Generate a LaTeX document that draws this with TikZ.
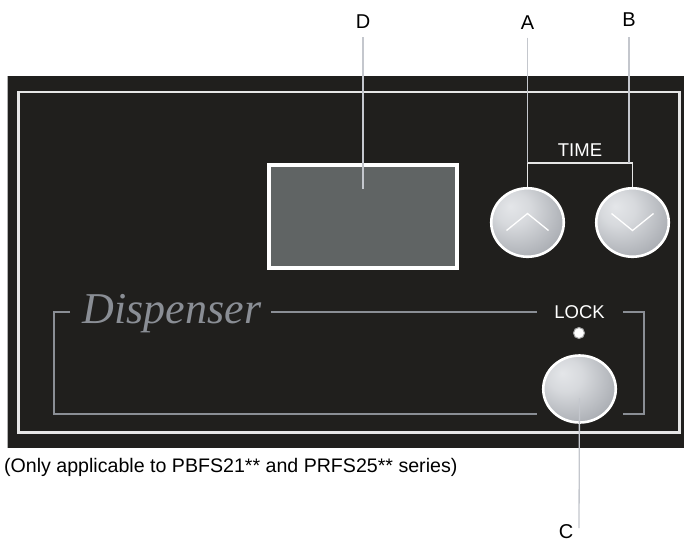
\documentclass[tikz,border=0pt]{standalone}
\usepackage{fontspec}
\setmainfont{Liberation Sans}
\newfontfamily\dispfont{Liberation Serif}
\usetikzlibrary{shapes.geometric}
\definecolor{panel}{HTML}{201F1D}
\definecolor{dispc}{HTML}{606464}
\definecolor{framec}{HTML}{E6E6E6}
\definecolor{leaderc}{HTML}{C4C7CD}
\definecolor{brackc}{HTML}{8A8E95}
\definecolor{btnhi}{HTML}{E4E6E9}
\definecolor{btnlo}{HTML}{8C9097}
\pgfdeclareradialshading{btnshade}{\pgfpoint{-12bp}{12bp}}{color(0bp)=(btnhi); color(12bp)=(btnhi!85!btnlo); color(48bp)=(btnlo); color(70bp)=(btnlo!85!black)}
\tikzset{
  lbl/.style={font=\fontsize{20}{22}\selectfont, text=black, inner sep=0pt},
  paneltext/.style={font=\fontsize{18.5}{20}\selectfont, text=white, inner sep=0pt},
  leader/.style={draw=leaderc, line width=1.3pt},
  brack/.style={draw=brackc, line width=2pt},
  timebr/.style={draw=framec, line width=1.6pt},
  btn/.style={ellipse, draw=white, line width=2.6pt, shading=btnshade, inner sep=0pt},
  chev/.style={draw=white, line width=1.3pt}
}
\begin{document}
\begin{tikzpicture}[x=1pt,y=-1pt]
\useasboundingbox (0,0) rectangle (684,542);
\fill[white] (0,0) rectangle (684,542);
% panel
\fill[panel] (7,76) rectangle (684,448);
\draw[gray!60, line width=0.8pt] (7.4,76) -- (7.4,448);
\draw[framec, line width=2.2pt] (18.5,92) rectangle (679.5,432.5);
% display
\node[draw=white, line width=4pt, fill=dispc, minimum width=188pt, minimum height=103pt, inner sep=0pt] (D) at (363,216.5) {};
% buttons
\node[btn, minimum width=72.5pt, minimum height=68.5pt] (btnA) at (527.5,222.5) {};
\node[btn, minimum width=72.5pt, minimum height=68.5pt] (btnB) at (632.5,222.5) {};
\node[btn, minimum width=72.5pt, minimum height=67pt] (btnC) at (579.5,389) {};
\draw[chev] ([shift={(-21,8)}]btnA.center) -- ([shift={(0,-9)}]btnA.center) -- ([shift={(21,8)}]btnA.center);
\draw[chev] ([shift={(-21,-9)}]btnB.center) -- ([shift={(0,8)}]btnB.center) -- ([shift={(21,-9)}]btnB.center);
% TIME
\node[paneltext] (time) at (580,150) {TIME};
\coordinate (brA) at (527.5,163);
\coordinate (brB) at (632.5,163);
\draw[timebr] (btnA.north) -- (brA) -- (brB) -- (btnB.north);
% labels
\node[lbl] (labD) at (363,22) {D};
\node[lbl] (labA) at (527.5,22.5) {A};
\node[lbl] (labB) at (629,20) {B};
\coordinate (dEnd) at (363,189);
\coordinate (bEnd) at (629,163);
\draw[leader, shorten <=8pt] (labD.south) -- (dEnd);
\draw[leader, shorten <=8pt] (labA.south) -- (brA);
\draw[leader, shorten <=10pt] (labB.south) -- (bEnd);
% dispenser bracket
\node[anchor=base, inner sep=0pt, text=brackc, font=\dispfont\itshape\fontsize{44}{46}\selectfont] (disp) at (172,323) {Dispenser};
\node[paneltext] (lock) at (579.5,312) {LOCK};
\node[circle, fill=white, draw=gray!70, line width=1pt, minimum size=11pt, inner sep=0pt] (led) at (579,333) {};
\draw[brack] (70,312) -- (54,312) -- (54,413.5) -- (537,413.5);
\draw[brack] (271,312) -- (537,312);
\draw[brack] (623,312) -- (644,312) -- (644,413.5) -- (623,413.5);
% C leader
\node[lbl] (labC) at (566,532) {C};
\coordinate (cEnd) at (579,528);
\draw[leader, shorten <=9pt] (btnC.center) -- (cEnd);
% caption
\node[anchor=west, inner sep=0pt, font=\fontsize{19.6}{22}\selectfont] (cap) at (4,467) {(Only applicable to PBFS21** and PRFS25** series)};
\end{tikzpicture}
\end{document}
